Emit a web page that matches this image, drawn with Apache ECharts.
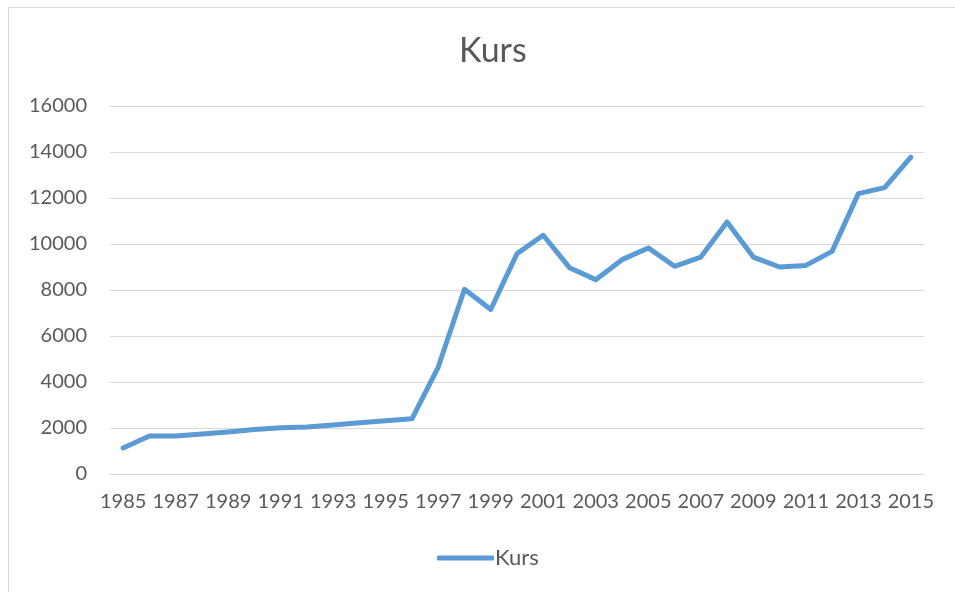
<!DOCTYPE html>
<html>
<head>
<meta charset="utf-8">
<title>Kurs</title>
<script src="https://cdn.jsdelivr.net/npm/echarts@6/dist/echarts.min.js"></script>
<style>
  html, body { margin: 0; padding: 0; background: #fff; }
  #kurs-pic { width: 955px; height: 592px; }
</style>
</head>
<body>
<div id="kurs-pic"></div>
<script>
  // Jahre 1985 - 2015
  var years = ['1985', '1986', '1987', '1988', '1989', '1990', '1991', '1992', '1993', '1994',
    '1995', '1996', '1997', '1998', '1999', '2000', '2001', '2002', '2003', '2004',
    '2005', '2006', '2007', '2008', '2009', '2010', '2011', '2012', '2013', '2014', '2015']
  // Kurs-Werte
  var kurs = [1130, 1650, 1650, 1740, 1830, 1930, 2010, 2040, 2130, 2230,
    2320, 2400, 4650, 8030, 7150, 9580, 10380, 8970, 8450, 9320,
    9830, 9030, 9430, 10960, 9430, 9000, 9070, 9680, 12190, 12450, 13780]
  var yMin = 0
  var yMax = 16000
  var yStep = 2000

  var textColor = '#595959'
  var gridColor = '#d9d9d9'
  var font = 'Lato, "Open Sans", sans-serif'

  var chart = echarts.init(document.getElementById('kurs-pic'))
  var option = {
    animation: false,
    title: {
      text: 'Kurs',
      left: 454,
      top: 29,
      textStyle: {
        color: textColor,
        fontFamily: font,
        fontWeight: 'normal',
        fontSize: 34
      }
    },
    // Rahmen wie im Original
    graphic: [{
      type: 'rect',
      silent: true,
      shape: { x: 8.5, y: 7.5, width: 1000, height: 1000 },
      style: { fill: 'none', stroke: gridColor, lineWidth: 1 }
    }],
    legend: {
      top: 542,
      left: 432,
      icon: 'roundRect',
      itemWidth: 57,
      itemHeight: 5,
      itemGap: 10,
      textStyle: { color: textColor, fontFamily: font, fontSize: 22, padding: [0, 0, 0, -4] },
      data: ['Kurs']
    },
    grid: {
      left: 110,
      right: 31,
      top: 106,
      bottom: 118
    },
    xAxis: {
      type: 'category',
      data: years,
      boundaryGap: true,
      axisLine: { lineStyle: { color: gridColor, width: 1 } },
      axisTick: { show: false },
      axisLabel: {
        interval: 1,
        color: textColor,
        fontFamily: font,
        fontSize: 20,
        margin: 18
      }
    },
    yAxis: {
      type: 'value',
      min: yMin,
      max: yMax,
      interval: yStep,
      axisLine: { show: false },
      axisTick: { show: false },
      axisLabel: {
        color: textColor,
        fontFamily: font,
        fontSize: 20,
        margin: 23,
        formatter: function (v) { return String(v) }
      },
      splitLine: { lineStyle: { color: gridColor, width: 1 } }
    },
    series: [{
      name: 'Kurs',
      type: 'line',
      data: kurs,
      symbol: 'none',
      itemStyle: { color: '#5b9bd5' },
      lineStyle: {
        color: '#5b9bd5',
        width: 5,
        cap: 'round',
        join: 'round'
      }
    }]
  }
  chart.setOption(option)
  window.addEventListener('resize', chart.resize)
</script>
</body>
</html>
